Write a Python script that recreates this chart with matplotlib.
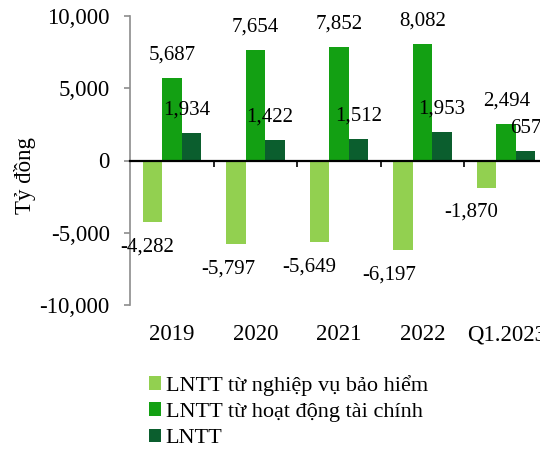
import numpy as np
import matplotlib
matplotlib.use("Agg")
import matplotlib.pyplot as plt
from matplotlib.ticker import FuncFormatter

plt.rcParams['font.family'] = ['Liberation Serif', 'DejaVu Serif']

# Lợi nhuận trước thuế theo mảng (tỷ đồng)
periods = ['2019', '2020', '2021', '2022', 'Q1.2023']
insurance = [-4282, -5797, -5649, -6197, -1870]
financial = [5687, 7654, 7852, 8082, 2494]
pretax = [1934, 1422, 1512, 1953, 657]

series_names = ['LNTT từ nghiệp vụ bảo hiểm', 'LNTT từ hoạt động tài chính', 'LNTT']
colors = ['#92D050', '#13A013', '#0B5E2E']

# small horizontal nudges (points) for some labels
neg_label_dx = [-3.6, -5.8, -7.2, -10, -11]
pos_label_dx = [-3.6, -3.6, 0, 0, 0]

fig = plt.figure(figsize=(5.4, 4.51), dpi=100)
ax = fig.add_axes([130 / 540, 1 - 305 / 451, 418 / 540, 289 / 451])

x = np.arange(len(periods))
w = 0.233

b1 = ax.bar(x - w, insurance, w, color=colors[0], label=series_names[0], zorder=2)
b2 = ax.bar(x, financial, w, color=colors[1], label=series_names[1], zorder=2)
b3 = ax.bar(x + w, pretax, w, color=colors[2], label=series_names[2], zorder=2)

fmt = lambda v: f'{v:,.0f}'

for bar, v, dx in zip(b1, insurance, neg_label_dx):
    ax.annotate(fmt(v), (bar.get_x() + bar.get_width() / 2, v),
                xytext=(dx, -18), textcoords='offset points',
                ha='center', va='center', fontsize=15)
for bar, v in zip(b2, financial):
    ax.annotate(fmt(v), (bar.get_x() + bar.get_width() / 2, v),
                xytext=(0, 16.5), textcoords='offset points',
                ha='center', va='center', fontsize=15)
for bar, v, dx in zip(b3, pretax, pos_label_dx):
    ax.annotate(fmt(v), (bar.get_x() + bar.get_width() / 2, v),
                xytext=(dx, 16.5), textcoords='offset points',
                ha='center', va='center', fontsize=15)

ax.set_xlim(-0.5, len(periods) - 0.5)
ax.set_ylim(-10000, 10000)
ax.set_yticks(np.arange(-10000, 10001, 5000))
ax.yaxis.set_major_formatter(FuncFormatter(lambda v, p: fmt(v)))
ax.tick_params(axis='y', direction='out', length=4.5, width=1.2,
               color='#8C8C8C', labelsize=16.5, pad=10)

# horizontal axis runs through zero, ticks between categories
ax.spines['bottom'].set_position(('data', 0))
ax.spines['bottom'].set_color('black')
ax.spines['bottom'].set_linewidth(1.6)
ax.spines['bottom'].set_zorder(3)
ax.set_xticks(x[:-1] + 0.5)
ax.set_xticklabels([])
ax.tick_params(axis='x', direction='out', length=4.5, width=1.2, color='black')

ax.spines['left'].set_color('#8C8C8C')
ax.spines['left'].set_linewidth(1.2)
ax.spines['top'].set_visible(False)
ax.spines['right'].set_visible(False)

# category names sit below the plot area
sec = ax.secondary_xaxis(0)
sec.set_xticks(x)
sec.set_xticklabels(periods)
sec.tick_params(length=0, labelsize=16.5, pad=14)
sec.spines['bottom'].set_visible(False)

fig.text(25 / 540, 1 - 176 / 451, 'Tỷ đồng', rotation=90,
         ha='center', va='center', fontsize=16.5)

fig.legend(handles=[b1, b2, b3], loc='upper left',
           bbox_to_anchor=(140 / 540, 1 - 366 / 451), frameon=False,
           fontsize=16, handlelength=0.55, handleheight=0.55,
           handletextpad=0.2, labelspacing=0.3, borderaxespad=0)

fig.savefig('out.png', dpi=100)
